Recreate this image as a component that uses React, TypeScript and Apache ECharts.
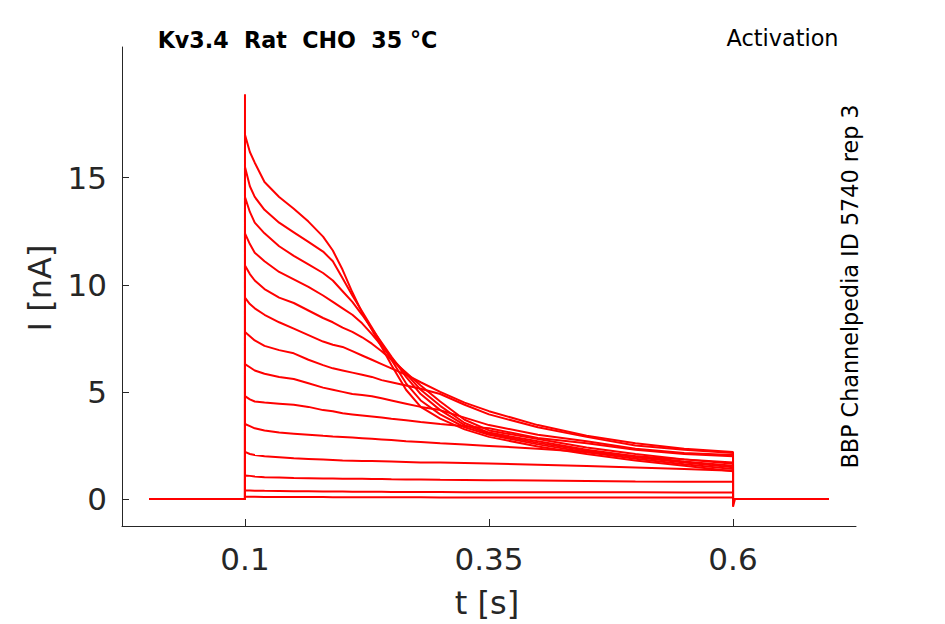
import React, { useEffect, useRef } from "react";
import * as echarts from "echarts";

// sample times within the voltage step (s)
const tGrid = [0.1, 0.105, 0.11, 0.12, 0.135, 0.15, 0.165, 0.18, 0.19, 0.2, 0.21, 0.22, 0.23, 0.24, 0.25, 0.265, 0.28, 0.3, 0.325, 0.35, 0.4, 0.45, 0.5, 0.55, 0.6];

// current traces (nA) sampled at tGrid
const trace1 = [17.0, 16.2, 15.7, 14.8, 14.1, 13.55, 12.95, 12.25, 11.6, 10.7, 9.65, 8.7, 7.9, 7.1, 6.26, 5.1, 4.3, 3.75, 3.25, 2.9, 2.45, 2.1, 1.8, 1.55, 1.3];
const trace2 = [15.5, 14.6, 14.1, 13.5, 12.9, 12.45, 12.0, 11.55, 11.1, 10.3, 9.5, 8.75, 8.0, 7.25, 6.5, 5.4, 4.6, 3.95, 3.35, 3.0, 2.55, 2.18, 1.88, 1.62, 1.4];
const trace3 = [14.1, 13.4, 12.9, 12.4, 11.8, 11.35, 10.95, 10.55, 10.2, 9.7, 9.2, 8.6, 7.95, 7.3, 6.65, 5.7, 4.9, 4.15, 3.45, 3.05, 2.62, 2.25, 1.95, 1.7, 1.48];
const trace4 = [12.4, 11.9, 11.5, 11.1, 10.6, 10.25, 9.9, 9.5, 9.2, 8.9, 8.6, 8.2, 7.7, 7.15, 6.6, 5.85, 5.1, 4.35, 3.55, 3.1, 2.7, 2.3, 2.0, 1.75, 1.55];
const trace5 = [10.9, 10.5, 10.2, 9.8, 9.4, 9.15, 8.8, 8.45, 8.25, 8.0, 7.8, 7.55, 7.25, 6.9, 6.5, 5.9, 5.3, 4.55, 3.7, 3.2, 2.8, 2.4, 2.1, 1.85, 1.65];
const trace6 = [9.4, 9.1, 8.9, 8.6, 8.25, 7.95, 7.65, 7.35, 7.2, 7.1, 6.9, 6.7, 6.5, 6.3, 6.1, 5.8, 5.45, 5.0, 4.5, 4.1, 3.45, 2.95, 2.6, 2.35, 2.2];
const trace7 = [7.8, 7.6, 7.4, 7.15, 6.95, 6.8, 6.5, 6.25, 6.1, 6.0, 5.9, 5.8, 5.7, 5.55, 5.45, 5.3, 5.15, 4.9, 4.4, 3.95, 3.35, 2.9, 2.5, 2.3, 2.15];
const trace8 = [6.3, 6.15, 6.0, 5.85, 5.7, 5.6, 5.4, 5.2, 5.1, 5.0, 4.9, 4.85, 4.8, 4.7, 4.6, 4.45, 4.3, 4.15, 3.8, 3.45, 3.0, 2.7, 2.35, 2.15, 2.05];
const trace9 = [4.8, 4.65, 4.55, 4.5, 4.45, 4.4, 4.3, 4.15, 4.1, 4.0, 3.95, 3.9, 3.85, 3.8, 3.75, 3.68, 3.6, 3.5, 3.4, 3.3, 2.85, 2.6, 2.3, 2.1, 2.0];
const trace10 = [3.5, 3.4, 3.3, 3.2, 3.1, 3.05, 3.0, 2.95, 2.92, 2.9, 2.87, 2.84, 2.81, 2.78, 2.75, 2.7, 2.66, 2.6, 2.54, 2.48, 2.35, 2.2, 2.0, 1.85, 1.7];
const trace11 = [2.2, 2.1, 2.05, 2.0, 1.95, 1.9, 1.87, 1.84, 1.82, 1.8, 1.79, 1.78, 1.77, 1.76, 1.75, 1.73, 1.71, 1.7, 1.68, 1.66, 1.6, 1.54, 1.47, 1.4, 1.32];
const trace12 = [1.1, 1.08, 1.05, 1.02, 1.0, 0.98, 0.97, 0.96, 0.955, 0.95, 0.945, 0.94, 0.935, 0.93, 0.92, 0.915, 0.91, 0.9, 0.89, 0.88, 0.86, 0.84, 0.82, 0.81, 0.8];
const trace13 = [0.4, 0.4, 0.39, 0.38, 0.37, 0.36, 0.36, 0.35, 0.35, 0.35, 0.34, 0.34, 0.34, 0.34, 0.33, 0.33, 0.33, 0.33, 0.32, 0.32, 0.32, 0.31, 0.31, 0.3, 0.3];
const trace14 = [0.1, 0.1, 0.1, 0.09, 0.09, 0.09, 0.09, 0.09, 0.08, 0.08, 0.08, 0.08, 0.08, 0.08, 0.08, 0.08, 0.08, 0.07, 0.07, 0.07, 0.07, 0.07, 0.07, 0.07, 0.07];
const traces = [trace1, trace2, trace3, trace4, trace5, trace6, trace7, trace8, trace9, trace10, trace11, trace12, trace13, trace14];

// protocol timing (s) and transients (nA)
const tRecStart = 0.002;
const tStepOn = 0.1;
const tStepOff = 0.6;
const tRecEnd = 0.698;
const holdCurrent = 0;
const onsetSpike = 18.9;
const offsetSpike = -0.36;

const xTicks = [0.1, 0.35, 0.6];
const yTicks = [0, 5, 10, 15];

const FONT = "DejaVu Sans";
const AXIS_COLOR = "#262626";

export default function App() {
  const ref = useRef<HTMLDivElement>(null);
  useEffect(() => {
    if (!ref.current) return;
    const chart = echarts.init(ref.current, null, { renderer: "svg" });
    const series = traces.map((tr, i) => {
      const data: number[][] = [[tRecStart, holdCurrent], [tStepOn, holdCurrent]];
      if (i === 0) data.push([tStepOn, onsetSpike]);
      tr.forEach((v, k) => data.push([tGrid[k], v]));
      data.push([tStepOff, i === 0 ? offsetSpike : holdCurrent]);
      data.push([tStepOff + 0.002, holdCurrent]);
      data.push([tRecEnd, holdCurrent]);
      return {
        type: "line",
        data,
        showSymbol: false,
        symbol: "none",
        lineStyle: { color: "#ff0000", width: 2 },
        z: 2,
        silent: true,
      };
    });
    chart.setOption({
      animation: false,
      backgroundColor: "#ffffff",
      grid: { left: 122, right: 89, top: 47, bottom: 98, containLabel: false },
      xAxis: {
        type: "value",
        min: -0.026,
        max: 0.726,
        axisLine: { show: true, onZero: false, lineStyle: { color: AXIS_COLOR, width: 1 } },
        axisTick: { show: true, inside: true, length: 7, customValues: xTicks, lineStyle: { color: AXIS_COLOR } },
        axisLabel: {
          show: true,
          customValues: xTicks,
          margin: 17,
          color: AXIS_COLOR,
          fontFamily: FONT,
          fontSize: 31,
          formatter: (v: number) => String(v),
        },
        splitLine: { show: false },
      },
      yAxis: {
        type: "value",
        min: -1.26,
        max: 21.1,
        axisLine: { show: true, onZero: false, lineStyle: { color: AXIS_COLOR, width: 1 } },
        axisTick: { show: true, inside: true, length: 7, customValues: yTicks, lineStyle: { color: AXIS_COLOR } },
        axisLabel: {
          show: true,
          customValues: yTicks,
          margin: 15,
          color: AXIS_COLOR,
          fontFamily: FONT,
          fontSize: 31,
        },
        splitLine: { show: false },
      },
      graphic: [
        {
          type: "text",
          x: 297.5,
          y: 40,
          style: {
            text: "Kv3.4  Rat  CHO  35 °C",
            fontFamily: FONT,
            fontWeight: "bold",
            fontSize: 22.2,
            fill: "#000",
            align: "center",
            verticalAlign: "middle",
          },
        },
        {
          type: "text",
          x: 782.5,
          y: 38,
          style: {
            text: "Activation",
            fontFamily: FONT,
            fontSize: 22.4,
            fill: "#000",
            align: "center",
            verticalAlign: "middle",
          },
        },
        {
          type: "text",
          x: 850,
          y: 286.5,
          rotation: Math.PI / 2,
          style: {
            text: "BBP Channelpedia ID 5740 rep 3",
            fontFamily: FONT,
            fontSize: 22.3,
            fill: "#000",
            align: "center",
            verticalAlign: "middle",
          },
        },
        {
          type: "text",
          x: 40,
          y: 288,
          rotation: Math.PI / 2,
          style: {
            text: "I [nA]",
            fontFamily: FONT,
            fontSize: 32,
            fill: AXIS_COLOR,
            align: "center",
            verticalAlign: "middle",
          },
        },
        {
          type: "text",
          x: 487,
          y: 603,
          style: {
            text: "t [s]",
            fontFamily: FONT,
            fontSize: 32,
            fill: AXIS_COLOR,
            align: "center",
            verticalAlign: "middle",
          },
        },
      ],
      series,
    });
    return () => chart.dispose();
  }, []);
  return (
    <div
      ref={ref}
      style={{ position: "absolute", left: 0, top: 0, width: 945, height: 624, background: "#fff" }}
    />
  );
}
